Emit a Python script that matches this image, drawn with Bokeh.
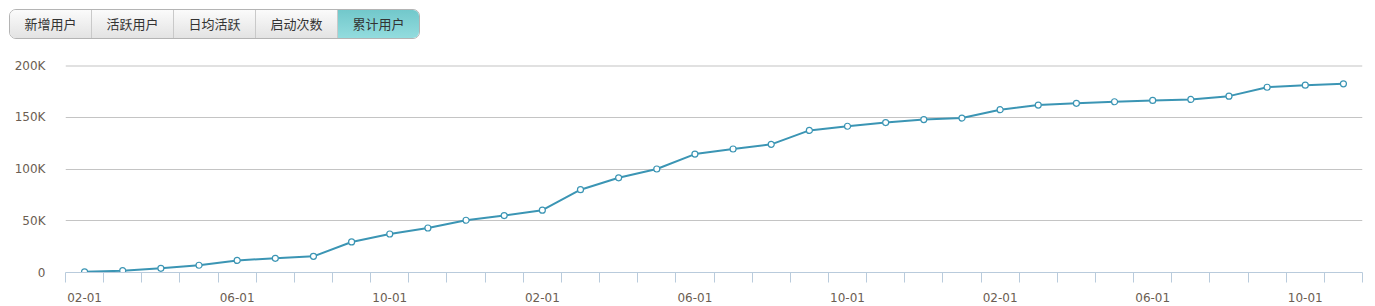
from bokeh.plotting import figure
from bokeh.models import Range1d, FixedTicker, Div, Span
from bokeh.layouts import column
from bokeh.embed import file_html
from bokeh.resources import INLINE

# ---- data ----
buttons = ["新增用户", "活跃用户", "日均活跃", "启动次数", "累计用户"]
selected = "累计用户"
months = ["02-01", "03-01", "04-01", "05-01", "06-01", "07-01", "08-01", "09-01", "10-01", "11-01", "12-01",
          "01-01", "02-01", "03-01", "04-01", "05-01", "06-01", "07-01", "08-01", "09-01", "10-01", "11-01", "12-01",
          "01-01", "02-01", "03-01", "04-01", "05-01", "06-01", "07-01", "08-01", "09-01", "10-01", "11-01"]
users = [700, 1800, 4000, 7000, 11700, 13700, 15600, 29500, 37200, 43000, 50500, 55000, 60200,
         80000, 91500, 100000, 114400, 119300, 123800, 137300, 141300, 144900, 147800, 149200,
         157300, 161800, 163500, 165000, 166300, 167200, 170400, 179000, 181000, 182300]
y_ticks = [0, 50000, 100000, 150000, 200000]
y_tick_labels = ["0", "50K", "100K", "150K", "200K"]
label_every = 4

# ---- buttons bar ----
btn_html = []
for i, b in enumerate(buttons):
    bg = "linear-gradient(#72c8cb,#93dcde)" if b == selected else "linear-gradient(#fbfbfb,#e3e3e3)"
    sep = "border-left:1px solid #c9c9c9;" if i > 0 else ""
    w = 81
    btn_html.append(
        f'<div style="flex:none;box-sizing:border-box;width:{w if i == 0 else w + 1}px;height:28px;line-height:28px;'
        f'text-align:center;{sep}'
        f'background:{bg};color:#333;font-size:13px;font-family:\'Noto Sans CJK SC\',sans-serif;">{b}</div>')
div_html = ('<div style="position:absolute;left:9px;top:9px;display:flex;border:1px solid #b4b4b4;'
            'border-radius:7px;overflow:hidden;">' + "".join(btn_html) + '</div>')
bar = Div(text=div_html, width=1375, height=50, margin=0)

# ---- chart ----
p = figure(width=1375, height=256, output_backend="svg", toolbar_location=None,
           x_range=Range1d(0, len(months)), y_range=Range1d(0, 200000),
           min_border_left=65, min_border_right=13, min_border_top=15, min_border_bottom=34)
p.outline_line_color = None
p.background_fill_color = "white"
p.border_fill_color = "white"

p.add_layout(Span(location=y_ticks[-1], dimension="width", line_color="#c4c4c4", line_width=2))

xs = [i + 0.5 for i in range(len(months))]
p.line(xs, users, line_color="#3b95b4", line_width=2)
p.scatter(xs, users, size=6, marker="circle", fill_color="white", line_color="#3b95b4", line_width=1.2)

label_pos = [i + 0.5 for i in range(0, len(months), label_every)]
p.xaxis.ticker = FixedTicker(ticks=label_pos, minor_ticks=list(range(len(months) + 1)))
p.xaxis.major_label_overrides = {i + 0.5: months[i] for i in range(0, len(months), label_every)}
p.xaxis.axis_line_color = "#b9cbdc"
p.xaxis.major_tick_line_color = None
p.xaxis.minor_tick_line_color = "#b9cbdc"
p.xaxis.minor_tick_in = 0
p.xaxis.minor_tick_out = 10
p.xaxis.major_tick_out = 0
p.xaxis.major_tick_in = 0
p.xaxis.major_label_standoff = 10
p.xaxis.major_label_text_font = "DejaVu Sans"
p.xaxis.major_label_text_font_size = "12px"
p.xaxis.major_label_text_color = "#6b5d52"

p.yaxis.ticker = FixedTicker(ticks=y_ticks, minor_ticks=[])
p.yaxis.major_label_overrides = dict(zip(y_ticks, y_tick_labels))
p.yaxis.axis_line_color = None
p.yaxis.major_tick_line_color = None
p.yaxis.minor_tick_line_color = None
p.yaxis.major_label_standoff = 14
p.yaxis.major_label_text_font = "DejaVu Sans"
p.yaxis.major_label_text_font_size = "12px"
p.yaxis.major_label_text_color = "#6b5d52"

p.xgrid.grid_line_color = None
p.ygrid.ticker = FixedTicker(ticks=y_ticks)
p.ygrid.grid_line_color = "#c4c4c4"
p.ygrid.grid_line_width = 1

layout = column(bar, p, spacing=0)
open("out.html", "w").write(file_html(layout, INLINE))
